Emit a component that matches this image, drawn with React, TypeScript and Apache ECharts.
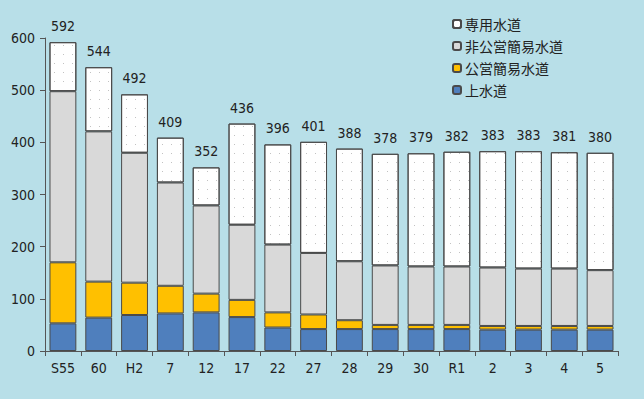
import React, { useEffect, useRef } from "react";
import * as echarts from "echarts";

const categories = ["S55", "60", "H2", "7", "12", "17", "22", "27", "28", "29", "30", "R1", "2", "3", "4", "5"];
const josuido = [53, 64, 69, 72, 74, 65, 45, 42, 42, 42, 42, 42, 41, 41, 41, 41];
const koeiKani = [117, 69, 62, 53, 36, 33, 29, 28, 17, 8, 8, 8, 7, 7, 7, 7];
const hikoeiKani = [328, 288, 249, 198, 169, 144, 130, 118, 113, 114, 112, 112, 112, 110, 110, 107];
const senyo = [94, 123, 112, 86, 73, 194, 192, 213, 216, 214, 217, 220, 223, 225, 223, 225];
const totals = [592, 544, 492, 409, 352, 436, 396, 401, 388, 378, 379, 382, 383, 383, 381, 380];
const yTicks = [0, 100, 200, 300, 400, 500, 600];

const FONT = "'DejaVu Sans Condensed', 'Liberation Sans Narrow', 'Noto Sans CJK JP', sans-serif";
const BORDER = "#4a4a4a";

export default function App() {
  const ref = useRef<HTMLDivElement>(null);
  useEffect(() => {
    if (!ref.current) return;
    const chart = echarts.init(ref.current, undefined, { renderer: "svg" });
    const base = {
      type: "bar",
      stack: "total",
      barCategoryGap: "25%",
    };
    chart.setOption({
      animation: false,
      backgroundColor: "#b8dfe8",
      grid: { left: 45, right: 26, top: 38, bottom: 48 },
      legend: {
        data: ["専用水道", "非公営簡易水道", "公営簡易水道", "上水道"],
        orient: "vertical",
        left: 447,
        top: 12,
        itemWidth: 8,
        itemHeight: 8,
        itemGap: 8,
        textStyle: { fontSize: 14, color: "#222", fontFamily: "'Noto Sans CJK JP', sans-serif", padding: [0, 0, 0, -1] },
      },
      xAxis: {
        type: "category",
        data: categories,
        axisLine: { lineStyle: { color: "#555" } },
        axisTick: { show: true, length: 5, lineStyle: { color: "#555" } },
        axisLabel: { color: "#222", fontSize: 14, fontFamily: FONT, margin: 10 },
      },
      yAxis: {
        type: "value",
        min: 0,
        max: yTicks[yTicks.length - 1],
        interval: 100,
        splitLine: { show: false },
        axisLine: { show: true, lineStyle: { color: "#555" } },
        axisTick: { show: true, length: 5, lineStyle: { color: "#555" } },
        axisLabel: { color: "#222", fontSize: 14, fontFamily: FONT, margin: 10 },
      },
      series: [
        {
          ...base,
          name: "上水道",
          data: josuido,
          itemStyle: { color: "#4f7fbd", borderColor: BORDER, borderWidth: 1 },
        },
        {
          ...base,
          name: "公営簡易水道",
          data: koeiKani,
          itemStyle: { color: "#ffc000", borderColor: BORDER, borderWidth: 1 },
        },
        {
          ...base,
          name: "非公営簡易水道",
          data: hikoeiKani,
          itemStyle: { color: "#d9d9d9", borderColor: BORDER, borderWidth: 1 },
        },
        {
          ...base,
          name: "専用水道",
          data: senyo,
          itemStyle: {
            color: "#ffffff",
            borderColor: BORDER,
            borderWidth: 1,
            decal: {
              symbol: "rect",
              symbolSize: 1,
              color: "rgba(120,120,120,0.45)",
              dashArrayX: [1, 8],
              dashArrayY: [1, 8],
              rotation: 0,
            },
          },
          label: {
            show: true,
            position: "top",
            distance: 9,
            color: "#222",
            fontSize: 14,
            fontFamily: FONT,
            formatter: (p: any) => String(totals[p.dataIndex]),
          },
        },
      ],
    });
    return () => chart.dispose();
  }, []);
  return <div ref={ref} style={{ position: "fixed", left: 0, top: 0, width: 644, height: 399 }} />;
}
